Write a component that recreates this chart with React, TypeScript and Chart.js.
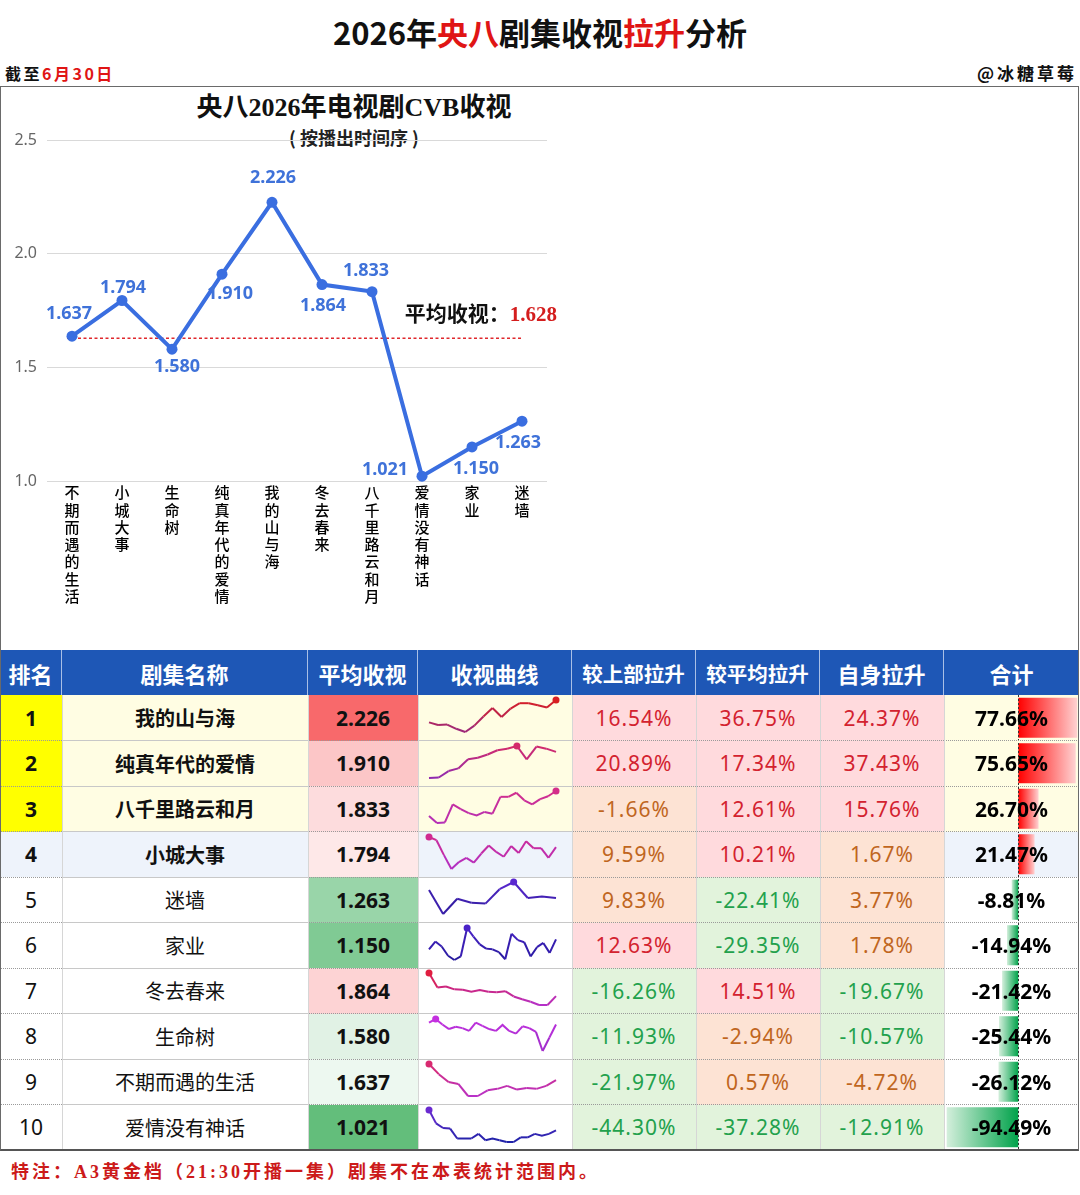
import React, { useEffect, useRef } from 'react';
import { Chart, registerables } from 'chart.js';

Chart.register(...registerables);

// ---------- Top line chart data (by air order) ----------
const AIR_ORDER = ['不期而遇的生活', '小城大事', '生命树', '纯真年代的爱情', '我的山与海', '冬去春来', '八千里路云和月', '爱情没有神话', '家业', '迷墙'];
const AIR_RATINGS = [1.637, 1.794, 1.58, 1.91, 2.226, 1.864, 1.833, 1.021, 1.15, 1.263];
const AVG_RATING = 1.628;
const Y_TICKS = [1.0, 1.5, 2.0, 2.5];

// ---------- Ranking table data ----------
const RANKS = [1, 2, 3, 4, 5, 6, 7, 8, 9, 10];
const RANK_NAMES = ['我的山与海', '纯真年代的爱情', '八千里路云和月', '小城大事', '迷墙', '家业', '冬去春来', '生命树', '不期而遇的生活', '爱情没有神话'];
const RANK_AVG = [2.226, 1.91, 1.833, 1.794, 1.263, 1.15, 1.864, 1.58, 1.637, 1.021];
const VS_PREV = [16.54, 20.89, -1.66, 9.59, 9.83, 12.63, -16.26, -11.93, -21.97, -44.3];
const VS_AVG = [36.75, 17.34, 12.61, 10.21, -22.41, -29.35, 14.51, -2.94, 0.57, -37.28];
const SELF_RISE = [24.37, 37.43, 15.76, 1.67, 3.77, 1.78, -19.67, -10.57, -4.72, -12.91];
const TOTAL = [77.66, 75.65, 26.7, 21.47, -8.81, -14.94, -21.42, -25.44, -26.12, -94.49];

// ---------- Per-episode ratings (sparklines), in table order ----------
const SPARK_1 = [2.08, 2.03, 2.04, 1.96, 1.9, 2.02, 2.19, 2.35, 2.18, 2.34, 2.44, 2.44, 2.4, 2.36, 2.5];
const SPARK_2 = [1.55, 1.56, 1.68, 1.73, 1.9, 1.93, 1.99, 2.07, 2.1, 2.15, 1.9, 2.14, 2.1, 2.04];
const SPARK_3 = [1.67, 1.55, 1.56, 1.87, 1.79, 1.72, 1.68, 1.74, 1.71, 2.0, 2.0, 2.07, 1.94, 1.87, 1.96, 2.01, 2.1];
const SPARK_4 = [2.07, 2.01, 1.73, 1.47, 1.6, 1.68, 1.59, 1.76, 1.91, 1.79, 1.7, 1.9, 1.77, 1.99, 1.86, 1.86, 1.68, 1.88];
const SPARK_5 = [1.35, 1.05, 1.24, 1.19, 1.18, 1.36, 1.45, 1.25, 1.27, 1.25];
const SPARK_6 = [1.12, 1.23, 1.16, 1.03, 0.97, 1.02, 1.42, 1.3, 1.19, 1.13, 1.12, 1.08, 0.98, 1.34, 1.25, 1.22, 1.02, 1.15, 1.21, 1.07, 1.26];
const SPARK_7 = [2.42, 2.01, 2.04, 1.96, 1.95, 1.89, 1.94, 1.89, 1.88, 1.91, 1.76, 1.68, 1.61, 1.52, 1.52, 1.77];
const SPARK_8 = [1.72, 1.8, 1.68, 1.58, 1.63, 1.6, 1.54, 1.72, 1.65, 1.58, 1.54, 1.67, 1.54, 1.48, 1.64, 1.6, 1.52, 1.1, 1.39, 1.68];
const SPARK_9 = [2.2, 1.93, 1.72, 1.67, 1.35, 1.35, 1.5, 1.54, 1.62, 1.52, 1.56, 1.54, 1.62, 1.77];
const SPARK_10 = [1.45, 1.22, 1.14, 1.13, 0.96, 0.96, 0.96, 1.04, 0.93, 0.96, 0.93, 0.9, 0.9, 0.98, 0.98, 1.04, 1.01, 1.04, 1.1];
const SPARKS = [SPARK_1, SPARK_2, SPARK_3, SPARK_4, SPARK_5, SPARK_6, SPARK_7, SPARK_8, SPARK_9, SPARK_10];

// ---------- Styles ----------
const SPARK_COLORS: [string, string][] = [
  ['#9b2a7e', '#d81e22'],
  ['#8f2ab0', '#d42a6a'],
  ['#b42fb8', '#d42e8a'],
  ['#b030c8', '#d02a90'],
  ['#2a1a98', '#5a28d0'],
  ['#25199c', '#4a22c8'],
  ['#b530c8', '#e01e40'],
  ['#9a2ec8', '#c430e0'],
  ['#b832c8', '#d82a70'],
  ['#1f22a8', '#6a2ad0'],
];
const LABEL_OFFSETS: [number, number][] = [
  [-3, -22], [1, -13], [5, 18], [8, 20], [1, -24], [1, 21], [-6, -21], [-37, -6], [4, 22], [-4, 22],
];

const SANS = '"Noto Sans", "Noto Sans CJK SC", sans-serif';
const CJK = '"Noto Sans CJK SC", "Noto Sans", sans-serif';
const SERIF = '"Liberation Serif", "DejaVu Serif", "Noto Sans CJK SC", serif';

const COL_X = [0, 62, 308, 418, 572, 696, 820, 944, 1079];
const HEADERS = ['排名', '剧集名称', '平均收视', '收视曲线', '较上部拉升', '较平均拉升', '自身拉升', '合计'];
const HEAD_TOP = 650;
const HEAD_H = 45;
const BODY_TOP = 695;
const ROW_H = 45.5;

const LINE_BLUE = '#3a6ee0';
const LABEL_BLUE = '#3f72d9';

function hexToRgb(h: string) {
  const n = parseInt(h.slice(1), 16);
  return [(n >> 16) & 255, (n >> 8) & 255, n & 255];
}
function mix(a: string, b: string, t: number) {
  const A = hexToRgb(a), B = hexToRgb(b);
  const c = A.map((v, i) => Math.round(v + (B[i] - v) * Math.max(0, Math.min(1, t))));
  return `rgb(${c[0]},${c[1]},${c[2]})`;
}

function heatColor(v: number, vals: number[]) {
  const sorted = [...vals].sort((a, b) => a - b);
  const n = sorted.length;
  const mid = n % 2 === 0 ? (sorted[n / 2 - 1] + sorted[n / 2]) / 2 : sorted[(n - 1) / 2];
  const min = sorted[0], max = sorted[n - 1];
  if (v <= mid) return mix('#ffffff', '#63be7b', (mid - v) / (mid - min));
  return mix('#ffffff', '#f8696b', (v - mid) / (max - mid));
}

function pctStyle(v: number) {
  if (v >= 10) return { bg: '#ffdadd', fg: '#d3222f' };
  if (v >= -10) return { bg: '#fde3d4', fg: '#c0661e' };
  return { bg: '#e2f3dc', fg: '#22a14c' };
}

function rowBg(r: number, col: number) {
  if (r < 3) return col === 0 ? '#ffff00' : '#fffde3';
  if (r === 3) return '#eef3fb';
  return '#ffffff';
}

export default function App() {
  const topRef = useRef<HTMLCanvasElement | null>(null);
  const barRef = useRef<HTMLCanvasElement | null>(null);
  const sparkRefs = useRef<(HTMLCanvasElement | null)[]>([]);

  useEffect(() => {
    const charts: Chart[] = [];

    // ---- Top line chart ----
    const topPlugin = {
      id: 'topDecor',
      beforeDatasetsDraw(chart: any) {
        const { ctx, scales } = chart;
        const x = scales.x, y = scales.y;
        const yy = y.getPixelForValue(AVG_RATING);
        ctx.save();
        ctx.strokeStyle = '#e0282d';
        ctx.lineWidth = 1.3;
        ctx.setLineDash([3, 2.5]);
        ctx.beginPath();
        ctx.moveTo(x.getPixelForValue(0) - 5, yy);
        ctx.lineTo(x.getPixelForValue(AIR_ORDER.length - 1) + 1, yy);
        ctx.stroke();
        ctx.restore();
      },
      afterDatasetsDraw(chart: any) {
        const { ctx, scales } = chart;
        const meta = chart.getDatasetMeta(0);
        ctx.save();
        ctx.font = `bold 18px ${SANS}`;
        ctx.fillStyle = LABEL_BLUE;
        ctx.textAlign = 'center';
        ctx.textBaseline = 'middle';
        meta.data.forEach((pt: any, i: number) => {
          const [dx, dy] = LABEL_OFFSETS[i];
          ctx.fillText(AIR_RATINGS[i].toFixed(3), pt.x + dx, pt.y + dy);
        });
        const yy = scales.y.getPixelForValue(AVG_RATING) - 23;
        const right = chart.chartArea.right + 10;
        ctx.font = `bold 21px ${SERIF}`;
        const valTxt = AVG_RATING.toFixed(3);
        const wVal = ctx.measureText(valTxt).width;
        ctx.textAlign = 'right';
        ctx.fillStyle = '#d41d1d';
        ctx.fillText(valTxt, right, yy);
        ctx.fillStyle = '#111111';
        ctx.fillText('平均收视：', right - wVal, yy);
        ctx.restore();
      },
    };

    if (topRef.current) {
      charts.push(
        new Chart(topRef.current, {
          type: 'line',
          data: {
            labels: AIR_ORDER.map((s) => s.split('')),
            datasets: [
              {
                data: AIR_RATINGS,
                borderColor: LINE_BLUE,
                backgroundColor: LINE_BLUE,
                borderWidth: 4,
                pointRadius: 5.5,
                pointBackgroundColor: LINE_BLUE,
                pointBorderWidth: 0,
                tension: 0,
                clip: false as any,
              },
            ],
          },
          options: {
            responsive: false,
            animation: false,
            devicePixelRatio: 1,
            layout: { padding: { top: 54, right: 13, left: 0, bottom: 0 } },
            plugins: { legend: { display: false }, tooltip: { enabled: false }, title: { display: false } },
            scales: {
              x: {
                offset: true,
                grid: { display: false },
                border: { display: false },
                ticks: {
                  maxRotation: 0,
                  minRotation: 0,
                  autoSkip: false,
                  padding: -5,
                  color: '#000000',
                  font: { size: 15, family: CJK, weight: '500' as any, lineHeight: 1.15 },
                },
                afterFit: (s: any) => {
                  s.height = 167;
                },
              },
              y: {
                min: Y_TICKS[0],
                max: Y_TICKS[Y_TICKS.length - 1],
                afterBuildTicks: (s: any) => {
                  s.ticks = Y_TICKS.map((v) => ({ value: v }));
                },
                grid: { color: '#d9d9d9', lineWidth: 1, drawTicks: false },
                border: { display: false },
                ticks: {
                  padding: 10,
                  color: '#666666',
                  font: { size: 16, family: SANS },
                  callback: (v: any) => Number(v).toFixed(1),
                },
                afterFit: (s: any) => {
                  s.width = 47;
                },
              },
            },
          },
          plugins: [topPlugin],
        })
      );
    }

    // ---- Sparklines ----
    SPARKS.forEach((vals, r) => {
      const cv = sparkRefs.current[r];
      if (!cv) return;
      const maxIdx = vals.indexOf(Math.max(...vals));
      const lo = Math.min(...vals), hi = Math.max(...vals);
      const [cLo, cHi] = SPARK_COLORS[r];
      const colorAt = (v: number) => mix(cLo, cHi, (v - lo) / (hi - lo));
      charts.push(
        new Chart(cv, {
          type: 'line',
          data: {
            labels: vals.map((_, i) => String(i + 1)),
            datasets: [
              {
                data: vals,
                borderWidth: 2,
                tension: 0,
                borderColor: cLo,
                segment: {
                  borderColor: (c: any) => colorAt((c.p0.parsed.y + c.p1.parsed.y) / 2),
                },
                pointRadius: vals.map((_, i) => (i === maxIdx ? 3.5 : 0)),
                pointBackgroundColor: colorAt(hi),
                pointBorderWidth: 0,
                clip: false as any,
              },
            ],
          },
          options: {
            responsive: false,
            animation: false,
            devicePixelRatio: 1,
            layout: { padding: { left: 11, right: 16, top: 5, bottom: 8 } },
            plugins: { legend: { display: false }, tooltip: { enabled: false } },
            scales: {
              x: { display: false, offset: false },
              y: { display: false, min: lo, max: hi, bounds: 'data' as any },
            },
          },
        })
      );
    });

    // ---- Total data bars ----
    const zeroLine = {
      id: 'zeroLine',
      afterDatasetsDraw(chart: any) {
        const { ctx, scales } = chart;
        const x0 = Math.round(scales.x.getPixelForValue(0)) + 0.5;
        ctx.save();
        ctx.strokeStyle = '#333333';
        ctx.lineWidth = 1;
        ctx.setLineDash([2, 2]);
        ctx.beginPath();
        ctx.moveTo(x0, 0);
        ctx.lineTo(x0, chart.height);
        ctx.stroke();
        ctx.restore();
      },
    };
    if (barRef.current) {
      charts.push(
        new Chart(barRef.current, {
          type: 'bar',
          data: {
            labels: RANKS.map(String),
            datasets: [
              {
                data: TOTAL,
                barPercentage: 0.88,
                categoryPercentage: 1,
                borderWidth: 0,
                backgroundColor: (c: any) => {
                  if (c.type !== 'data') return 'rgba(0,0,0,0)';
                  const chart = c.chart;
                  const xs = chart.scales && chart.scales.x;
                  const v = TOTAL[c.dataIndex];
                  if (!xs) return v >= 0 ? '#ff4040' : '#30b060';
                  const x0 = xs.getPixelForValue(0);
                  const x1 = xs.getPixelForValue(v);
                  if (!isFinite(x0) || !isFinite(x1) || x0 === x1) return v >= 0 ? '#ff4040' : '#30b060';
                  const g = chart.ctx.createLinearGradient(x0, 0, x1, 0);
                  if (v >= 0) {
                    g.addColorStop(0, '#ff0000');
                    g.addColorStop(1, '#ffd2d2');
                  } else {
                    g.addColorStop(0, '#00a24a');
                    g.addColorStop(1, '#d4efdc');
                  }
                  return g;
                },
              },
            ],
          },
          options: {
            indexAxis: 'y',
            responsive: false,
            animation: false,
            devicePixelRatio: 1,
            layout: { padding: 0 },
            plugins: { legend: { display: false }, tooltip: { enabled: false } },
            scales: {
              x: { display: false, min: -98, max: 80 },
              y: { display: false },
            },
          },
          plugins: [zeroLine],
        })
      );
    }

    return () => {
      charts.forEach((c) => c.destroy());
    };
  }, []);

  const cellBase: React.CSSProperties = {
    position: 'absolute',
    display: 'flex',
    alignItems: 'center',
    justifyContent: 'center',
    boxSizing: 'border-box',
    whiteSpace: 'nowrap',
  };

  const bodyCells: React.ReactNode[] = [];
  RANKS.forEach((rank, r) => {
    const top = BODY_TOP + r * ROW_H;
    const bold = r < 4;
    const cell = (col: number, bg: string, content: React.ReactNode, extra: React.CSSProperties = {}, z = 1) => (
      <div
        key={`c${r}-${col}`}
        style={{
          ...cellBase,
          left: COL_X[col],
          top,
          width: COL_X[col + 1] - COL_X[col],
          height: ROW_H,
          background: bg,
          zIndex: z,
          ...extra,
        }}
      >
        {content}
      </div>
    );
    bodyCells.push(
      cell(0, rowBg(r, 0), rank, { fontFamily: SANS, fontSize: 21, fontWeight: bold ? 700 : 400, color: '#111' })
    );
    bodyCells.push(
      cell(1, rowBg(r, 1), RANK_NAMES[r], { fontFamily: CJK, fontSize: 20, fontWeight: bold ? 700 : 400, color: '#111' })
    );
    bodyCells.push(
      cell(2, heatColor(RANK_AVG[r], RANK_AVG), RANK_AVG[r].toFixed(3), {
        fontFamily: SANS,
        fontSize: 21,
        fontWeight: 700,
        color: '#111',
      })
    );
    bodyCells.push(cell(3, rowBg(r, 3), null));
    [VS_PREV, VS_AVG, SELF_RISE].forEach((arr, k) => {
      const st = pctStyle(arr[r]);
      bodyCells.push(
        cell(4 + k, st.bg, arr[r].toFixed(2) + '%', {
          fontFamily: SANS,
          fontSize: 21,
          letterSpacing: 1,
          color: st.fg,
        })
      );
    });
    bodyCells.push(cell(7, rowBg(r, 7), null));
    bodyCells.push(
      <div
        key={`t${r}`}
        style={{
          ...cellBase,
          left: COL_X[7],
          top,
          width: COL_X[8] - COL_X[7],
          height: ROW_H,
          zIndex: 4,
          fontFamily: SANS,
          fontSize: 21,
          fontWeight: 700,
          color: '#000',
        }}
      >
        {TOTAL[r].toFixed(2) + '%'}
      </div>
    );
  });

  const seps: React.ReactNode[] = [];
  for (let i = 1; i < RANKS.length; i++) {
    const y = BODY_TOP + i * ROW_H;
    for (let c = 0; c < 8; c++) {
      const solid = c === 1 || c === 3;
      seps.push(
        <div
          key={`h${i}-${c}`}
          style={{
            position: 'absolute',
            left: COL_X[c],
            top: y - 0.5,
            width: COL_X[c + 1] - COL_X[c],
            height: 0,
            borderTop: solid ? '1px solid #c8c8c8' : '1px dotted #9a9a9a',
            zIndex: 3,
          }}
        />
      );
    }
  }
  for (let c = 1; c < 8; c++) {
    seps.push(
      <div
        key={`v${c}`}
        style={{
          position: 'absolute',
          left: COL_X[c] - 0.5,
          top: BODY_TOP,
          width: 0,
          height: ROW_H * RANKS.length,
          borderLeft: '1px solid #d6d6d6',
          zIndex: 3,
        }}
      />
    );
  }

  return (
    <div
      style={{
        position: 'absolute',
        left: 0,
        top: 0,
        width: 1080,
        height: 1195,
        background: '#ffffff',
        overflow: 'hidden',
        fontFamily: CJK,
      }}
    >
      <div
        style={{
          position: 'absolute',
          left: 0,
          top: 12,
          width: 1080,
          textAlign: 'center',
          fontSize: 31,
          fontWeight: 700,
          lineHeight: '40px',
          color: '#111',
        }}
      >
        2026年<span style={{ color: '#e01515' }}>央八</span>剧集收视<span style={{ color: '#e01515' }}>拉升</span>分析
      </div>
      <div
        style={{
          position: 'absolute',
          left: 5,
          top: 64,
          fontSize: 16,
          lineHeight: '18px',
          fontWeight: 700,
          letterSpacing: 2.5,
          color: '#111',
        }}
      >
        截至<span style={{ color: '#e01515' }}>6月30日</span>
      </div>
      <div
        style={{
          position: 'absolute',
          right: 3,
          top: 64,
          fontSize: 17,
          lineHeight: '18px',
          fontWeight: 700,
          letterSpacing: 3,
          color: '#111',
        }}
      >
        @冰糖草莓
      </div>

      <div
        style={{
          position: 'absolute',
          left: 0,
          top: 86,
          width: 1079,
          height: 565,
          border: '1.5px solid #6a6a6a',
          boxSizing: 'border-box',
        }}
      />
      <div
        style={{
          position: 'absolute',
          left: 154,
          top: 92,
          width: 400,
          textAlign: 'center',
          fontFamily: SERIF,
          fontSize: 26,
          fontWeight: 700,
          lineHeight: '32px',
          color: '#111',
        }}
      >
        央八2026年电视剧CVB收视
      </div>
      <div
        style={{
          position: 'absolute',
          left: 154,
          top: 124,
          width: 400,
          textAlign: 'center',
          fontFamily: CJK,
          fontSize: 18,
          fontWeight: 700,
          lineHeight: '26px',
          color: '#222',
          whiteSpace: 'pre',
        }}
      >
        {'( 按播出时间序 )'}
      </div>
      <canvas
        ref={topRef}
        width={560}
        height={562}
        style={{ position: 'absolute', left: 0, top: 86, width: 560, height: 562, zIndex: 2 }}
      />

      {HEADERS.map((h, i) => (
        <div
          key={`hd${i}`}
          style={{
            ...cellBase,
            left: COL_X[i],
            top: HEAD_TOP,
            width: COL_X[i + 1] - COL_X[i],
            height: HEAD_H,
            background: '#1e57b6',
            color: '#ffffff',
            fontWeight: 700,
            fontSize: h.length >= 5 ? 20.5 : 22,
            borderRight: i < HEADERS.length - 1 ? '1px solid #a9bfe6' : 'none',
            zIndex: 1,
          }}
        >
          {h}
        </div>
      ))}

      {bodyCells}
      {seps}

      {SPARKS.map((_, r) => (
        <canvas
          key={`sp${r}`}
          ref={(el) => {
            sparkRefs.current[r] = el;
          }}
          width={COL_X[4] - COL_X[3]}
          height={45}
          style={{
            position: 'absolute',
            left: COL_X[3],
            top: BODY_TOP + r * ROW_H,
            width: COL_X[4] - COL_X[3],
            height: 45,
            zIndex: 2,
          }}
        />
      ))}

      <canvas
        ref={barRef}
        width={COL_X[8] - COL_X[7]}
        height={ROW_H * RANKS.length}
        style={{
          position: 'absolute',
          left: COL_X[7],
          top: BODY_TOP,
          width: COL_X[8] - COL_X[7],
          height: ROW_H * RANKS.length,
          zIndex: 2,
        }}
      />

      <div
        style={{
          position: 'absolute',
          left: 0,
          top: HEAD_TOP,
          width: 1079,
          height: BODY_TOP + ROW_H * RANKS.length - HEAD_TOP + 1,
          borderLeft: '1.5px solid #6a6a6a',
          borderRight: '1.5px solid #6a6a6a',
          borderBottom: '2px solid #555',
          boxSizing: 'border-box',
          zIndex: 5,
          pointerEvents: 'none',
        }}
      />

      <div
        style={{
          position: 'absolute',
          left: 11,
          top: 1160,
          fontFamily: SERIF,
          fontSize: 18,
          fontWeight: 700,
          letterSpacing: 3,
          lineHeight: '24px',
          color: '#cc1a1a',
        }}
      >
        特注：A3黄金档（21:30开播一集）剧集不在本表统计范围内。
      </div>
    </div>
  );
}
